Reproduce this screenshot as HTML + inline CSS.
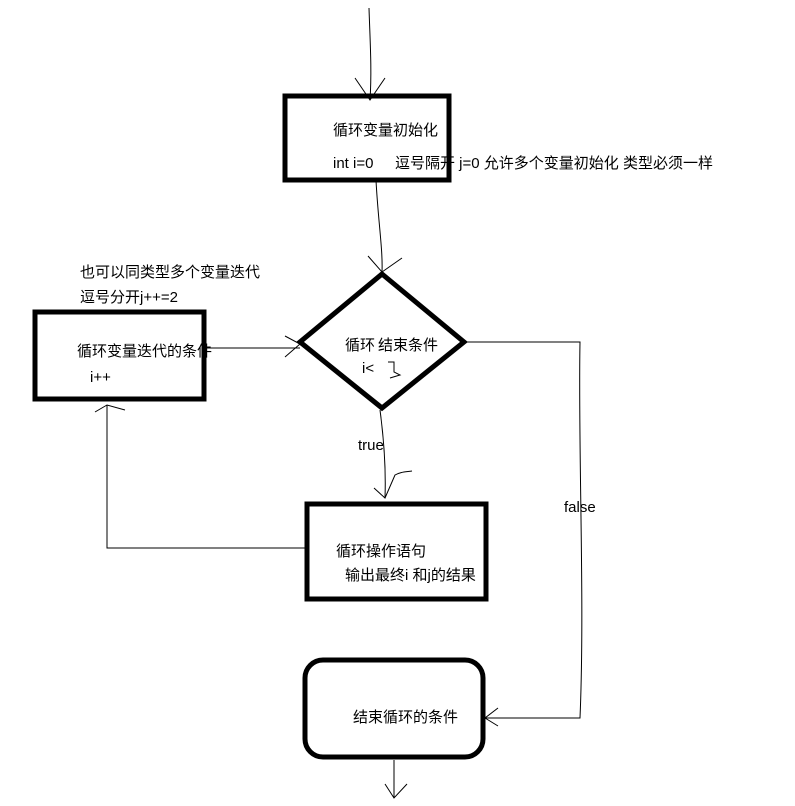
<!DOCTYPE html>
<html><head><meta charset="utf-8"><style>
html,body{margin:0;padding:0;background:#fff;}
svg{display:block}
text{font-family:"Liberation Sans","Noto Sans CJK SC",sans-serif;font-size:15px;fill:#000}
</style></head><body>
<svg width="795" height="806" viewBox="0 0 795 806">
<g fill="none" stroke="#000" stroke-width="1">
<path d="M369 8 C370 40 372 70 370 100"/>
<path d="M355 78 L370 100 L385 78"/>
<path d="M376 180 C378 220 383 250 382 272"/>
<path d="M368 256 L382 272 L402 258"/>
<path d="M206 348 L300 348"/>
<path d="M285 336 L300 344 L285 357"/>
<path d="M464 342 L580 342 C578 450 585 600 580 718 L485 718"/>
<path d="M498 708 L485 718 L498 726"/>
<path d="M380 410 C384 440 386 470 385 498"/>
<path d="M374 488 L385 498 L395 475 C400 472 405 472 412 471"/>
<path d="M305 548 L107 548 L107 405"/>
<path d="M95 412 L107 405 L125 410"/>
<path d="M394 760 L394 798"/>
<path d="M385 784 L394 798 L407 784"/>
<path d="M388 362 L394 362 L394 372 L400 375 L390 378"/>
</g>
<g fill="none" stroke="#000" stroke-width="5">
<rect x="285" y="96" width="164" height="84"/>
<rect x="35" y="312" width="169" height="87"/>
<polygon points="382,274 464,342 382,408 300,342"/>
<rect x="307" y="504" width="179" height="95"/>
<rect x="305" y="660" width="178" height="97" rx="18"/>
</g>
<text x="333" y="135">循环变量初始化</text>
<text x="333" y="168">int i=0</text>
<text x="395" y="168">逗号隔开 j=0 允许多个变量初始化  类型必须一样</text>
<text x="80" y="277">也可以同类型多个变量迭代</text>
<text x="80" y="302">逗号分开j++=2</text>
<text x="77" y="356">循环变量迭代的条件</text>
<text x="90" y="382">i++</text>
<text x="345" y="350">循环</text>
<text x="378" y="350">结束条件</text>
<text x="362" y="373">i&lt;</text>
<text x="358" y="450">true</text>
<text x="564" y="512">false</text>
<text x="336" y="556">循环操作语句</text>
<text x="345" y="580">输出最终i 和j的结果</text>
<text x="353" y="722">结束循环的条件</text>
</svg>
</body></html>
